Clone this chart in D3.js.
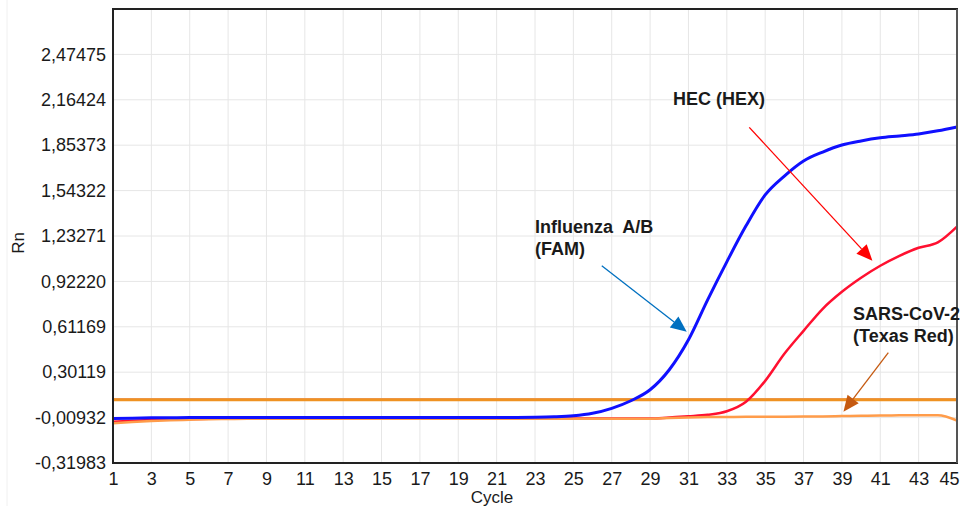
<!DOCTYPE html>
<html>
<head>
<meta charset="utf-8">
<script src="https://cdn.jsdelivr.net/npm/d3@7"></script>
<style>
  body { margin: 0; background: #fff; }
  text { font-family: "Liberation Sans", Arial, sans-serif; fill: #1a1a1a; }
</style>
</head>
<body>
<div id="chart"></div>
<script>
// amplification data
const cycles = [1,2,3,4,5,6,7,8,9,10,11,12,13,14,15,16,17,18,19,20,21,22,23,24,25,26,27,28,29,30,31,32,33,34,35,36,37,38,39,40,41,42,43,44,45];
const xTicks = [1,3,5,7,9,11,13,15,17,19,21,23,25,27,29,31,33,35,37,39,41,43,45];
const yTicks = [-0.31983, -0.00932, 0.30119, 0.61169, 0.92220, 1.23271, 1.54322, 1.85373, 2.16424, 2.47475];
const yTop = 2.78526;

// Influenza A/B (FAM)
const famValues = [-0.016,-0.013,-0.011,-0.010,-0.009,-0.009,
  -0.008,-0.008,-0.008,-0.008,-0.008,-0.008,-0.008,-0.008,-0.008,-0.008,-0.008,-0.008,-0.008,-0.008,-0.008,-0.008,
  -0.007,-0.004,0.003,0.020,0.054,0.106,0.181,0.318,0.523,0.796,1.056,1.302,1.514,1.643,1.746,1.807,1.855,1.883,1.904,1.917,1.931,1.952,1.978];
// HEC (HEX)
const hexValues = [-0.037,-0.030,-0.025,-0.021,-0.019,-0.017,
  -0.016,-0.016,-0.016,-0.016,-0.016,-0.016,-0.016,-0.016,-0.016,-0.016,-0.016,-0.016,-0.016,-0.016,-0.016,-0.016,-0.016,-0.016,-0.016,-0.016,-0.016,-0.016,-0.016,
  -0.008,0.000,0.010,0.034,0.099,0.242,0.427,0.584,0.735,0.851,0.947,1.029,1.097,1.152,1.189,1.297];
// SARS-CoV-2 (Texas Red)
const texasRedValues = [-0.048,-0.039,-0.032,-0.027,-0.024,-0.021,-0.019,
  -0.017,-0.017,-0.017,-0.017,-0.017,-0.017,-0.017,-0.017,-0.017,-0.017,-0.017,-0.017,-0.017,-0.017,-0.017,-0.017,-0.017,-0.017,-0.017,-0.017,-0.017,-0.017,
  -0.012,-0.008,-0.006,-0.005,-0.004,-0.004,-0.003,-0.002,-0.001,0.001,0.003,0.005,0.006,0.007,0.007,-0.029];
const thresholdValues = [0.118, 0.112];

// annotations in (cycle, Rn) units
const notes = [
  {lines: ["HEC (HEX)"], at: [30.2, 2.129], from: [34.17, 1.976], to: [40.59, 1.064], color: "#ff0000"},
  {lines: ["Influenza  A/B", "(FAM)"], at: [23.0, 1.253], from: [26.48, 1.03], to: [30.91, 0.578], color: "#0070c0"},
  {lines: ["SARS-CoV-2", "(Texas Red)"], at: [39.58, 0.658], from: [41.42, 0.435], to: [39.08, 0.031], color: "#c55a11"}
];

const W = 975, H = 506;
const margin = {top: 9, right: 18, bottom: 43, left: 113};
const width = W - margin.left - margin.right,
      height = H - margin.top - margin.bottom;

const svg = d3.select("#chart").append("svg")
  .attr("width", W)
  .attr("height", H);

// faint panel edge on the left
svg.append("line")
  .attr("x1", 7).attr("x2", 7).attr("y1", 0).attr("y2", H)
  .attr("stroke", "#f0f0f0");

const g = svg.append("g")
  .attr("transform", "translate(" + margin.left + "," + margin.top + ")");

const x = d3.scaleLinear().domain([1, 45]).range([0, width]);
const y = d3.scaleLinear().domain([yTicks[0], yTop]).range([height, 0]);

// grid
g.append("g")
  .selectAll("line")
  .data(xTicks.slice(1, -1))
  .join("line")
    .attr("x1", d => x(d)).attr("x2", d => x(d))
    .attr("y1", 0).attr("y2", height)
    .attr("stroke", "#e6e6e6");
g.append("g")
  .selectAll("line")
  .data(yTicks.slice(1))
  .join("line")
    .attr("x1", 0).attr("x2", width)
    .attr("y1", d => y(d)).attr("y2", d => y(d))
    .attr("stroke", "#e6e6e6");

// axes (labels only)
const fmt = d => d3.format(".5f")(d).replace(".", ",").replace("−", "-");
const yAxis = g.append("g")
  .call(d3.axisLeft(y).tickValues(yTicks).tickFormat(fmt).tickSize(0).tickPadding(7));
yAxis.select(".domain").remove();
yAxis.selectAll("text")
  .attr("font-size", 18)
  .attr("font-family", "Liberation Sans, Arial, sans-serif")
  .attr("fill", "#1a1a1a");

const xAxis = g.append("g")
  .attr("transform", "translate(0," + height + ")")
  .call(d3.axisBottom(x).tickValues(xTicks).tickFormat(d3.format("d")).tickSize(0).tickPadding(9));
xAxis.select(".domain").remove();
xAxis.selectAll("text")
  .attr("font-size", 18)
  .attr("font-family", "Liberation Sans, Arial, sans-serif")
  .attr("fill", "#1a1a1a")
  .attr("text-anchor", d => d === 45 ? "end" : "middle")
  .attr("dx", d => d === 45 ? 2 : 0);

// threshold lines
g.append("line")
  .attr("x1", 0).attr("x2", width)
  .attr("y1", y(thresholdValues[0])).attr("y2", y(thresholdValues[0]))
  .attr("stroke", "#e8a4a8").attr("stroke-width", 2);
g.append("line")
  .attr("x1", 0).attr("x2", width)
  .attr("y1", y(thresholdValues[1])).attr("y2", y(thresholdValues[1]))
  .attr("stroke", "#ef9222").attr("stroke-width", 3);

// curves
const line = d3.line()
  .x((d, i) => x(cycles[i]))
  .y(d => y(d))
  .curve(d3.curveMonotoneX);

const series = [
  {values: hexValues, color: "#ff1030", w: 2.5},
  {values: texasRedValues, color: "#ff9c4a", w: 2.5},
  {values: famValues, color: "#1010ff", w: 3}
];
g.selectAll(".curve")
  .data(series)
  .join("path")
    .attr("class", "curve")
    .attr("fill", "none")
    .attr("stroke", d => d.color)
    .attr("stroke-width", d => d.w)
    .attr("stroke-linejoin", "round")
    .attr("d", d => line(d.values));

// plot border
g.append("rect")
  .attr("x", 0).attr("y", 0)
  .attr("width", width).attr("height", height)
  .attr("fill", "none")
  .attr("stroke", "#222")
  .attr("stroke-width", 2);
g.append("line")
  .attr("x1", width).attr("x2", width).attr("y1", 0).attr("y2", height)
  .attr("stroke", "#555").attr("stroke-width", 2);

// annotations with arrows
notes.forEach(n => {
  const x1 = x(n.from[0]), y1 = y(n.from[1]);
  const x2 = x(n.to[0]), y2 = y(n.to[1]);
  const ang = Math.atan2(y2 - y1, x2 - x1);
  const len = 16, half = 7;
  const bx = x2 - len * Math.cos(ang), by = y2 - len * Math.sin(ang);
  g.append("line")
    .attr("x1", x1).attr("y1", y1).attr("x2", bx).attr("y2", by)
    .attr("stroke", n.color).attr("stroke-width", 1.3);
  g.append("polygon")
    .attr("points", [
      [x2, y2],
      [bx + half * Math.sin(ang), by - half * Math.cos(ang)],
      [bx - half * Math.sin(ang), by + half * Math.cos(ang)]
    ].map(p => p.join(",")).join(" "))
    .attr("fill", n.color);
  const t = g.append("text")
    .attr("x", x(n.at[0]))
    .attr("y", y(n.at[1]))
    .attr("font-size", 18)
    .attr("font-weight", "bold")
    .style("white-space", "pre")
    .attr("fill", "#111");
  n.lines.forEach((s, i) => {
    t.append("tspan")
      .attr("x", x(n.at[0]))
      .attr("dy", i === 0 ? 0 : 22)
      .text(s);
  });
});

// axis titles
svg.append("text")
  .attr("x", 492)
  .attr("y", 503)
  .attr("text-anchor", "middle")
  .attr("font-size", 17)
  .text("Cycle");
svg.append("text")
  .attr("transform", "translate(24,243) rotate(-90)")
  .attr("text-anchor", "middle")
  .attr("font-size", 17)
  .text("Rn");
</script>
</body>
</html>
